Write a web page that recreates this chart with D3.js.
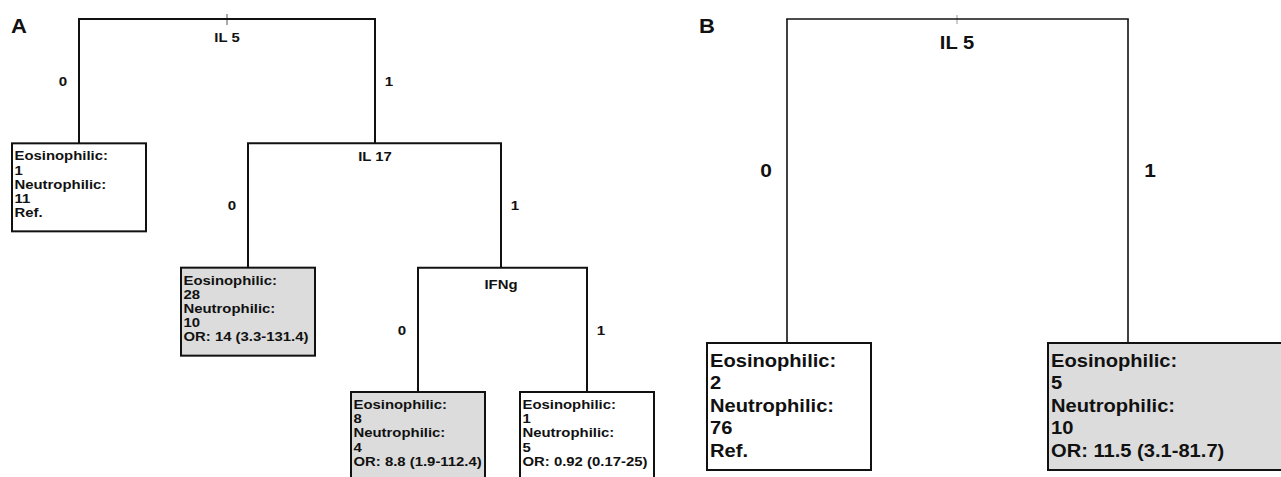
<!DOCTYPE html>
<html>
<head>
<meta charset="utf-8">
<script src="https://cdn.jsdelivr.net/npm/d3@7"></script>
<style>
  html, body { margin: 0; padding: 0; background: #fff; }
  svg { display: block; }
  text { font-family: "Liberation Sans", Arial, sans-serif; font-weight: bold; fill: #111; }
</style>
</head>
<body>
<svg id="chart" width="1281" height="477"></svg>
<script>
// ---------- data ----------
const panelLabels = ["A", "B"];
const splitVariablesA = ["IL 5", "IL 17", "IFNg"];
const splitVariablesB = ["IL 5"];
const branchValues = ["0", "1"];
const eosinophilicA = [1, 28, 8, 1];
const neutrophilicA = [11, 10, 4, 5];
const oddsRatioA = ["Ref.", "OR: 14 (3.3-131.4)", "OR: 8.8 (1.9-112.4)", "OR: 0.92 (0.17-25)"];
const significantA = [false, true, true, false];
const eosinophilicB = [2, 5];
const neutrophilicB = [76, 10];
const oddsRatioB = ["Ref.", "OR: 11.5 (3.1-81.7)"];
const significantB = [false, true];

// ---------- build trees from data ----------
function leaf(i, eos, neu, odds, sig) {
  return { leaf: true, lines: ["Eosinophilic:", String(eos[i]), "Neutrophilic:", String(neu[i]), odds[i]], sig: sig[i] };
}
const treeA = {
  name: splitVariablesA[0],
  children: [
    leaf(0, eosinophilicA, neutrophilicA, oddsRatioA, significantA),
    { name: splitVariablesA[1], children: [
        leaf(1, eosinophilicA, neutrophilicA, oddsRatioA, significantA),
        { name: splitVariablesA[2], children: [
            leaf(2, eosinophilicA, neutrophilicA, oddsRatioA, significantA),
            leaf(3, eosinophilicA, neutrophilicA, oddsRatioA, significantA)
        ]}
    ]}
  ]
};
const treeB = {
  name: splitVariablesB[0],
  children: [
    leaf(0, eosinophilicB, neutrophilicB, oddsRatioB, significantB),
    leaf(1, eosinophilicB, neutrophilicB, oddsRatioB, significantB)
  ]
};

const svg = d3.select("#chart");
const W = 1281;

// layout configuration (geometry / styling)
const cfgA = {
  label: panelLabels[0], labelX: 11, labelY: 33, labelSize: 20,
  depthScale: d3.scaleLinear().domain([0, 3]).range([19, 392]),
  xPos: { "r": 227, "r0": 79, "r1": 375, "r10": 248, "r11": 501, "r110": 418, "r111": 587 },
  font: 13.3, sx: 1.12, lineW: 2, boxW: 134, boxH: 88, boxOff: 67,
  textFirst: 17, textStep: 14.2, textPad: 2.5,
  splitOff: { 0: 23, 1: 18, 2: 21 },
  branchFont: 13.5, branchDx: [-16, 14], branchDy: 0,
  tick: { x: 227, y1: 14, y2: 25, color: "#555" },
  extendToEdge: false
};
const cfgB = {
  label: panelLabels[1], labelX: 699, labelY: 33, labelSize: 20,
  depthScale: d3.scaleLinear().domain([0, 1]).range([19, 343]),
  xPos: { "r": 957, "r0": 787, "r1": 1128 },
  font: 18.3, sx: 1.1, lineW: 1.6, boxW: 164, boxH: 127, boxOff: 80,
  textFirst: 23.6, textStep: 22.5, textPad: 3,
  splitOff: { 0: 30 },
  branchFont: 19, branchDx: [-21, 22], branchDy: -11,
  tick: { x: 957, y1: 15, y2: 24, color: "#999" },
  extendToEdge: true
};

function drawPanel(tree, cfg) {
  const g = svg.append("g");
  const root = d3.hierarchy(tree);
  root.each(d => {
    d.key = "r" + d.ancestors().reverse().slice(1).map(a => a.parent.children.indexOf(a)).join("");
    d.px = cfg.xPos[d.key];
    d.py = cfg.depthScale(d.depth);
  });

  g.append("text")
    .attr("transform", `translate(${cfg.labelX},${cfg.labelY}) scale(1.1,1)`)
    .attr("font-size", cfg.labelSize)
    .text(cfg.label);

  // small tick on the root split
  g.append("line")
    .attr("x1", cfg.tick.x).attr("x2", cfg.tick.x)
    .attr("y1", cfg.tick.y1).attr("y2", cfg.tick.y2)
    .attr("stroke", cfg.tick.color).attr("stroke-width", 1);

  root.descendants().filter(d => d.children).forEach(d => {
    const [c0, c1] = d.children;
    g.append("line")
      .attr("x1", c0.px).attr("x2", c1.px)
      .attr("y1", d.py).attr("y2", d.py)
      .attr("stroke", "#111").attr("stroke-width", cfg.lineW)
      .attr("stroke-linecap", "square");
    d.children.forEach((c, i) => {
      g.append("line")
        .attr("x1", c.px).attr("x2", c.px)
        .attr("y1", d.py).attr("y2", c.py)
        .attr("stroke", "#111").attr("stroke-width", cfg.lineW);
      const my = (d.py + c.py) / 2 + cfg.branchDy;
      const bx = c.px + cfg.branchDx[i];
      g.append("text")
        .attr("transform", `translate(${bx},${my + cfg.branchFont * 0.36}) scale(${cfg.sx},1)`)
        .attr("text-anchor", "middle")
        .attr("font-size", cfg.branchFont)
        .text(branchValues[i]);
    });
    g.append("text")
      .attr("transform", `translate(${d.px},${d.py + cfg.splitOff[d.depth]}) scale(${cfg.sx},1)`)
      .attr("text-anchor", "middle")
      .attr("font-size", cfg.font)
      .text(d.data.name);
  });

  root.leaves().forEach(d => {
    const left = d.px - cfg.boxOff;
    const top = d.py;
    const w = cfg.extendToEdge && d.data.sig ? Math.max(cfg.boxW, W - left + 2) : cfg.boxW;
    g.append("rect")
      .attr("x", left).attr("y", top)
      .attr("width", w).attr("height", cfg.boxH)
      .attr("fill", d.data.sig ? "#dcdcdc" : "#ffffff")
      .attr("stroke", "#111").attr("stroke-width", 2);
    d.data.lines.forEach((ln, i) => {
      g.append("text")
        .attr("transform", `translate(${left + cfg.textPad},${top + cfg.textFirst + i * cfg.textStep}) scale(${cfg.sx},1)`)
        .attr("font-size", cfg.font)
        .text(ln);
    });
  });
}

drawPanel(treeA, cfgA);
drawPanel(treeB, cfgB);
</script>
</body>
</html>
